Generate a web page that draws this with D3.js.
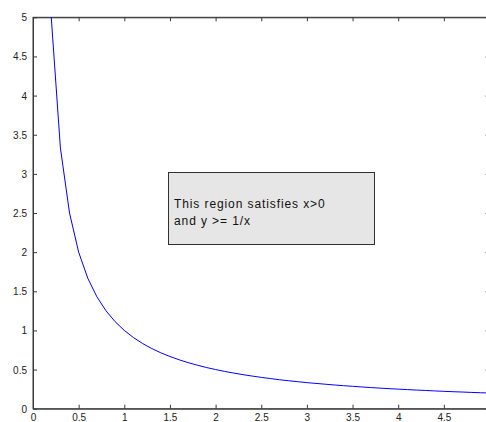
<!DOCTYPE html>
<html>
<head>
<meta charset="utf-8">
<script src="https://cdn.jsdelivr.net/npm/d3@7"></script>
<style>
  html, body { margin: 0; padding: 0; background: #fff; }
  svg { display: block; }
  text { font-family: "Liberation Sans", Arial, sans-serif; }
</style>
</head>
<body>
<svg id="chart" width="486" height="422"></svg>
<script>
// Sampled curve y = 1/x (x from 0.2 to 5 in steps of 0.1)
const xValues = [0.2, 0.3, 0.4, 0.5, 0.6, 0.7, 0.8, 0.9, 1.0, 1.1, 1.2, 1.3, 1.4, 1.5, 1.6, 1.7, 1.8, 1.9, 2.0,
  2.1, 2.2, 2.3, 2.4, 2.5, 2.6, 2.7, 2.8, 2.9, 3.0, 3.1, 3.2, 3.3, 3.4, 3.5, 3.6, 3.7, 3.8, 3.9, 4.0,
  4.1, 4.2, 4.3, 4.4, 4.5, 4.6, 4.7, 4.8, 4.9, 5.0];
const yValues = [5.000, 3.333, 2.500, 2.000, 1.667, 1.429, 1.250, 1.111, 1.000, 0.909, 0.833, 0.769, 0.714,
  0.667, 0.625, 0.588, 0.556, 0.526, 0.500, 0.476, 0.455, 0.435, 0.417, 0.400, 0.385, 0.370, 0.357,
  0.345, 0.333, 0.323, 0.313, 0.303, 0.294, 0.286, 0.278, 0.270, 0.263, 0.256, 0.250, 0.244, 0.238,
  0.233, 0.227, 0.222, 0.217, 0.213, 0.208, 0.204, 0.200];
const xTicks = [0, 0.5, 1, 1.5, 2, 2.5, 3, 3.5, 4, 4.5];
const yTicks = [0, 0.5, 1, 1.5, 2, 2.5, 3, 3.5, 4, 4.5, 5];
const annotationLines = ["This region satisfies x>0", "and y >= 1/x"];
const annotationAnchor = [1.48, 3.02]; // data-space position of the box's left edge / top

const svg = d3.select("#chart");
const plot = { left: 33, right: 489.5, top: 17.3, bottom: 408.7 };

const x = d3.scaleLinear().domain([0, 5]).range([plot.left, plot.right]);
const y = d3.scaleLinear().domain([0, 5]).range([plot.bottom, plot.top]);

const axisColor = "#3a3a3a";
const fmt = d => d3.format("")(d);

// Box frame
svg.append("rect")
  .attr("x", plot.left).attr("y", plot.top)
  .attr("width", plot.right - plot.left).attr("height", plot.bottom - plot.top)
  .attr("fill", "none").attr("stroke", axisColor).attr("stroke-width", 1);

// Bottom axis
const gx = svg.append("g").attr("transform", `translate(0,${plot.bottom})`)
  .call(d3.axisBottom(x).tickValues(xTicks).tickFormat(fmt).tickSizeInner(-4).tickSizeOuter(0).tickPadding(6));
// Top axis ticks
const gxt = svg.append("g").attr("transform", `translate(0,${plot.top})`)
  .call(d3.axisTop(x).tickValues(xTicks).tickFormat("").tickSizeInner(-4).tickSizeOuter(0));
// Left axis
const gy = svg.append("g").attr("transform", `translate(${plot.left},0)`)
  .call(d3.axisLeft(y).tickValues(yTicks).tickFormat(fmt).tickSizeInner(-4).tickSizeOuter(0).tickPadding(6));
// Right axis ticks
const gyr = svg.append("g").attr("transform", `translate(${plot.right},0)`)
  .call(d3.axisRight(y).tickValues(yTicks).tickFormat("").tickSizeInner(-4).tickSizeOuter(0));

[gx, gxt, gy, gyr].forEach(g => {
  g.select(".domain").attr("stroke", axisColor);
  g.selectAll(".tick line").attr("stroke", axisColor);
  g.selectAll(".tick text").attr("fill", "#222").attr("font-size", 10)
    .attr("font-family", "'Liberation Sans', Arial, sans-serif");
});
gx.selectAll(".tick text").attr("dy", "0.6em");
gy.selectAll(".tick text").attr("dy", "0.35em");

// Curve
const line = d3.line().x((d, i) => x(xValues[i])).y(d => y(d));
svg.append("path")
  .datum(yValues)
  .attr("fill", "none")
  .attr("stroke", "#0000ff")
  .attr("stroke-width", 1)
  .attr("d", line);

// Annotation box
const bx = Math.round(x(annotationAnchor[0])) + 0.5, by = Math.round(y(annotationAnchor[1])) + 0.5;
svg.append("rect")
  .attr("x", bx).attr("y", by)
  .attr("width", 206).attr("height", 72)
  .attr("fill", "#e6e6e6").attr("stroke", "#303030").attr("stroke-width", 1);
svg.append("text")
  .attr("x", bx + 5.5).attr("y", by + 35)
  .attr("font-size", 12).attr("letter-spacing", 0.9).attr("fill", "#111")
  .selectAll("tspan").data(annotationLines).join("tspan")
  .attr("x", bx + 5.5).attr("dy", (d, i) => i === 0 ? 0 : 17.5)
  .text(d => d);
</script>
</body>
</html>
